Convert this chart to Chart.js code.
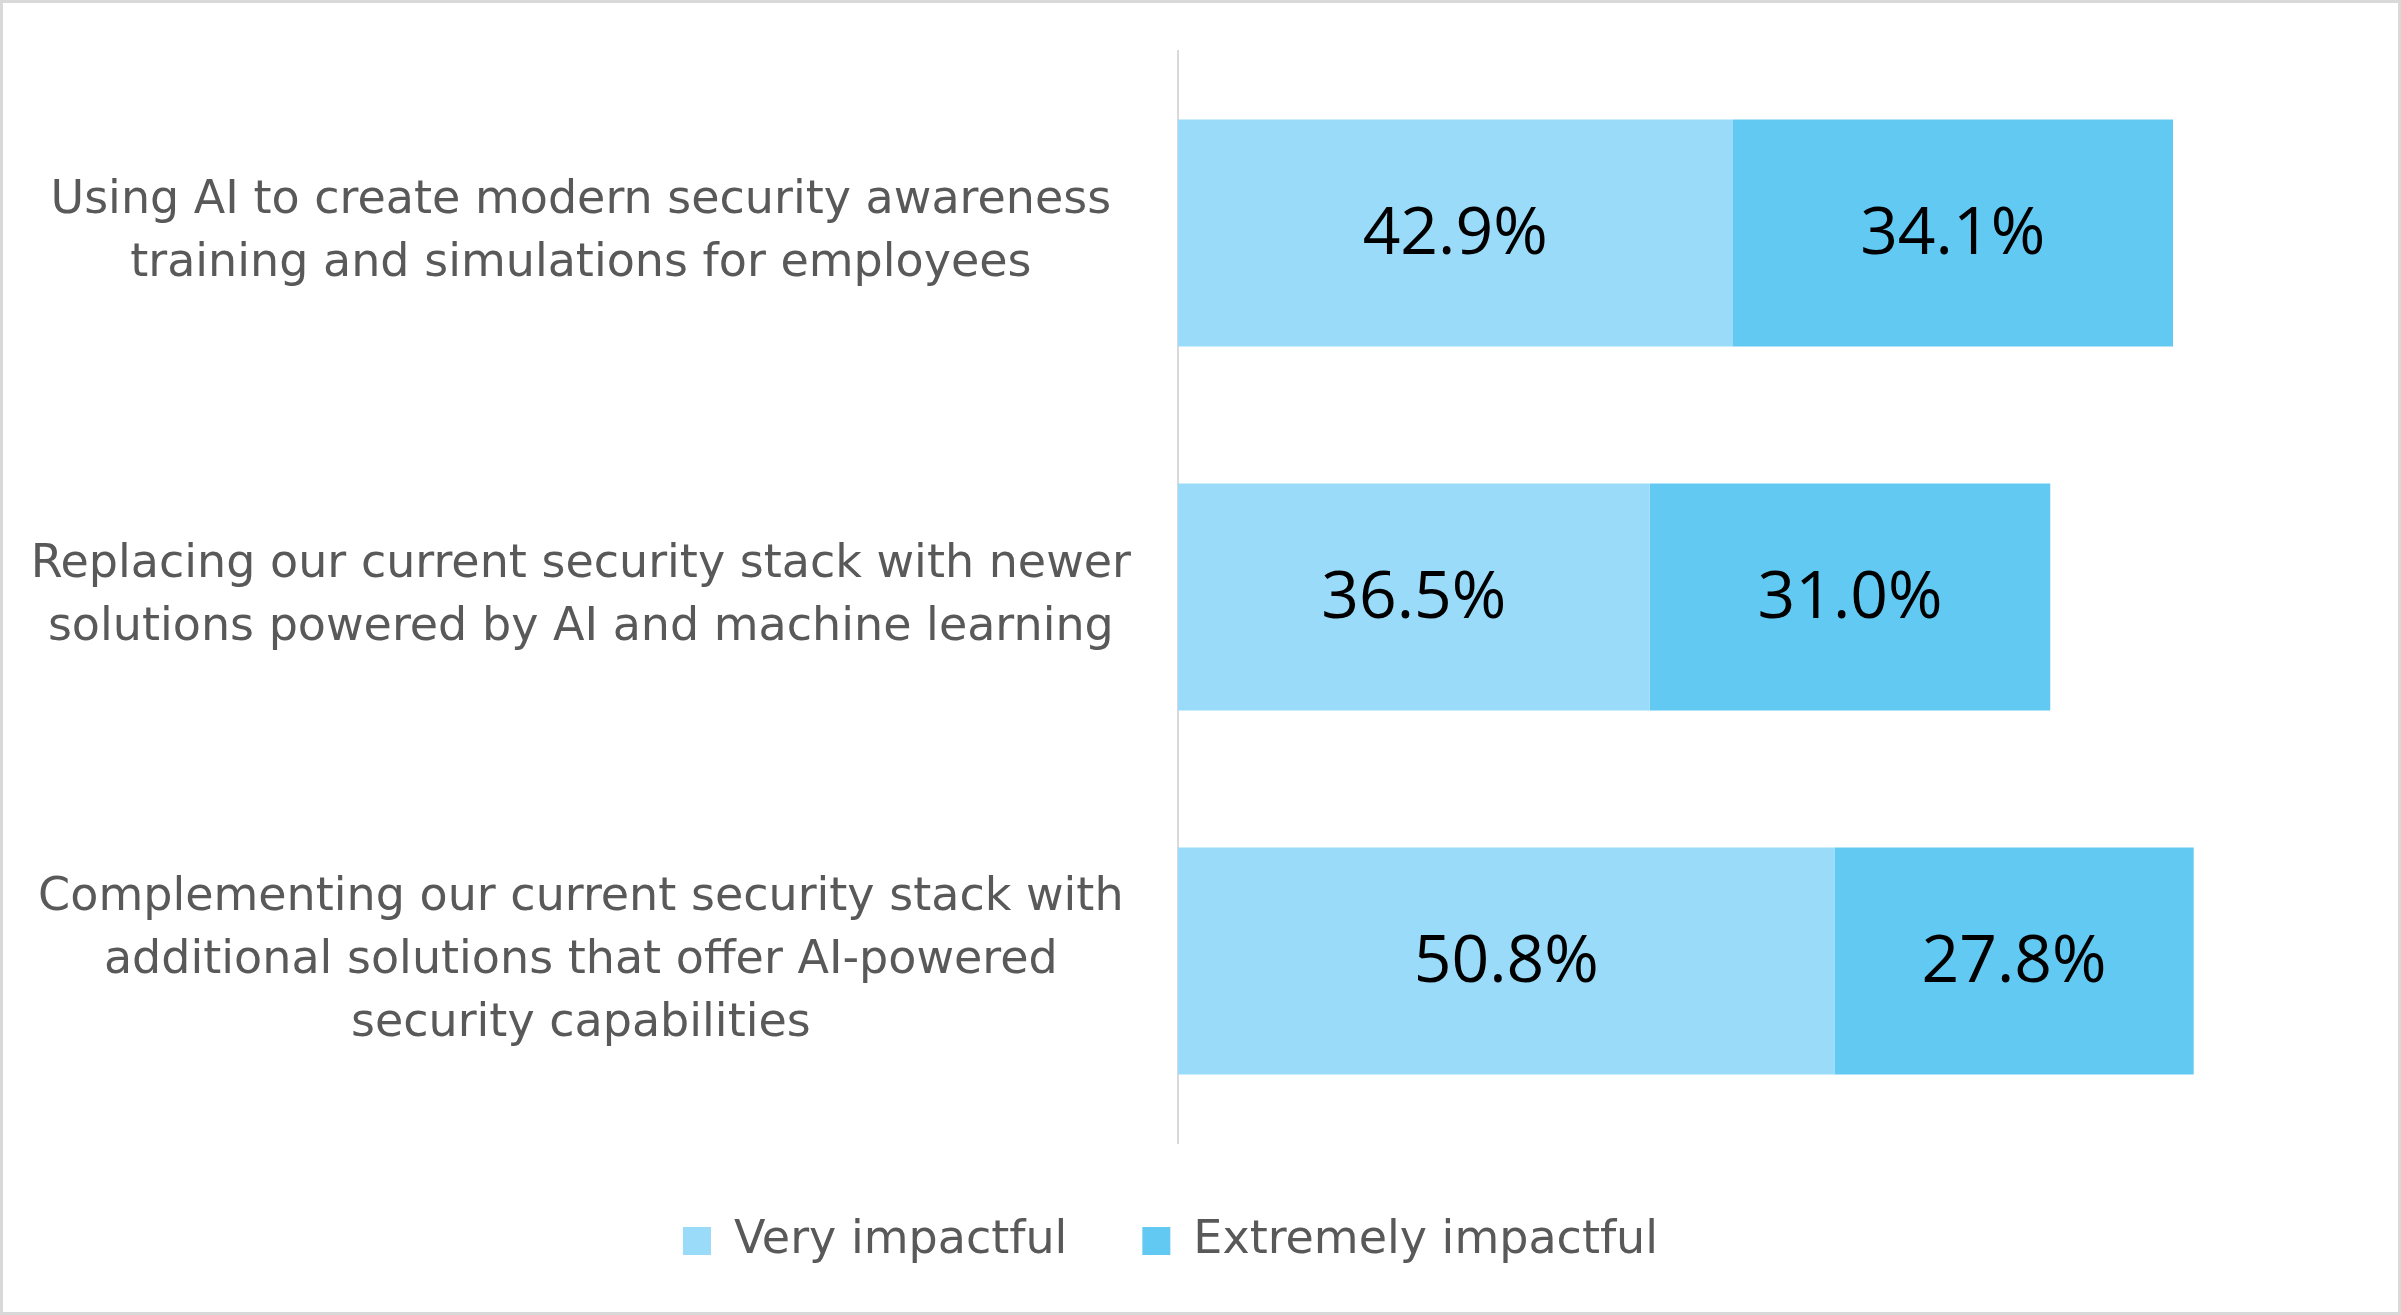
<!DOCTYPE html>
<html>
<head>
<meta charset="utf-8">
<script src="https://cdn.jsdelivr.net/npm/chart.js@4.4.1/dist/chart.umd.min.js"></script>
<style>
  html, body { margin: 0; padding: 0; background: #fff; overflow: hidden; }
  #wrap { position: relative; width: 2401px; height: 1315px; }
  #frame { position: absolute; left: 0; top: 0; width: 2401px; height: 1315px; box-sizing: border-box; border: 3px solid #d9d9d9; pointer-events: none; }
  canvas { position: absolute; left: 0; top: 0; }
</style>
</head>
<body>
<div id="wrap">
  <canvas id="chart" width="2401" height="1315"></canvas>
  <div id="frame"></div>
</div>
<script>
const categories = [
    ["Using AI to create modern security awareness", "training and simulations for employees"],
    ["Replacing our current security stack with newer", "solutions powered by AI and machine learning"],
    ["Complementing our current security stack with", "additional solutions that offer AI-powered", "security capabilities"],
];
const seriesNames = ["Very impactful", "Extremely impactful"];
const veryImpactful = [42.9, 36.5, 50.8];
const extremelyImpactful = [34.1, 31.0, 27.8];
const seriesColors = ["#99dbf8", "#62caf2"];

Chart.defaults.font.family = "'DejaVu Sans', sans-serif";

// values written in the middle of each bar segment
const barLabels = {
    id: "barLabels",
    afterDatasetsDraw(chart) {
        const ctx = chart.ctx;
        ctx.save();
        ctx.font = "66px 'Open Sans'";
        ctx.fillStyle = "#000000";
        ctx.textAlign = "center";
        ctx.textBaseline = "middle";
        chart.data.datasets.forEach((ds, i) => {
            chart.getDatasetMeta(i).data.forEach((bar, j) => {
                const p = bar.getProps(["x", "y", "base"], true);
                ctx.fillText(ds.data[j].toFixed(1) + "%", (p.x + p.base) / 2, p.y + 2);
            });
        });
        ctx.restore();
    }
};

new Chart(document.getElementById("chart"), {
    type: "bar",
    data: {
        labels: categories,
        datasets: [
            { label: seriesNames[0], data: veryImpactful, backgroundColor: seriesColors[0] },
            { label: seriesNames[1], data: extremelyImpactful, backgroundColor: seriesColors[1] },
        ],
    },
    options: {
        indexAxis: "y",
        responsive: false,
        devicePixelRatio: 1,
        animation: false,
        layout: { padding: { left: 0, right: 60, top: 51, bottom: 41 } },
        datasets: { bar: { categoryPercentage: 1, barPercentage: 0.623, borderWidth: 0 } },
        scales: {
            x: { display: false, stacked: true, min: 0, max: 90 },
            y: {
                stacked: true,
                grid: { display: false, drawTicks: false },
                border: { display: true, color: "#d9d9d9", width: 2 },
                ticks: {
                    padding: 47,
                    crossAlign: "center",
                    color: "#595959",
                    font: { size: 46, lineHeight: 1.37 },
                },
                afterFit(scale) {
                    scale.width = 1178;
                    scale.paddingTop = 0;
                    scale.paddingBottom = 0;
                },
            },
        },
        plugins: {
            legend: {
                position: "bottom",
                labels: {
                    boxWidth: 28,
                    boxHeight: 28,
                    padding: 75,
                    color: "#595959",
                    font: { size: 46 },
                },
            },
            tooltip: { enabled: false },
        },
    },
    plugins: [barLabels],
});
</script>
</body>
</html>
